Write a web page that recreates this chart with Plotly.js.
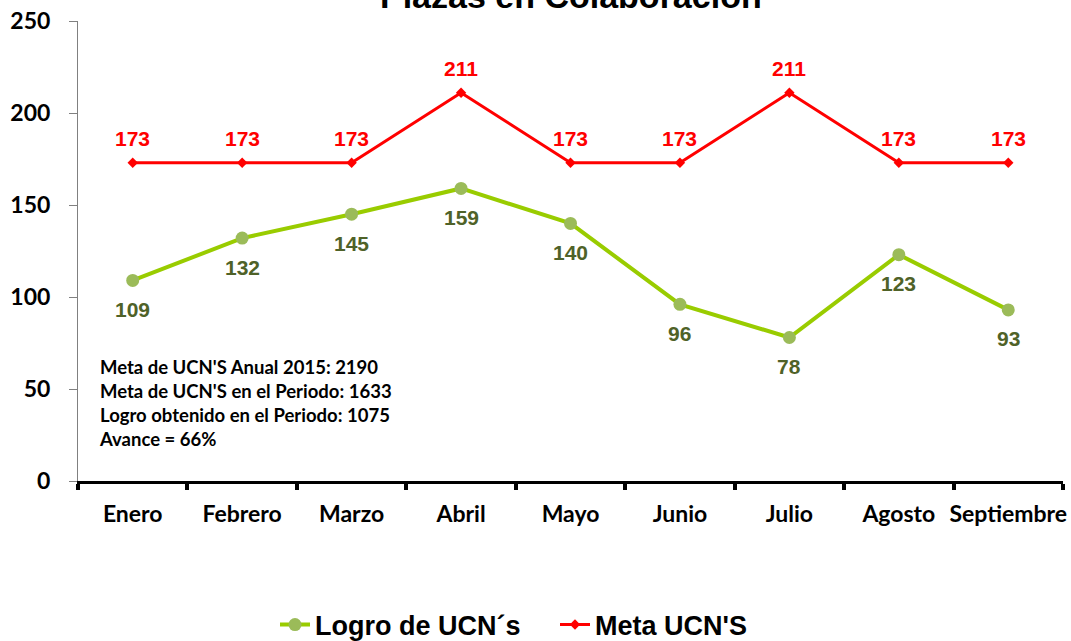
<!DOCTYPE html>
<html><head><meta charset="utf-8">
<script src="https://cdn.plot.ly/plotly-3.0.1.min.js"></script>
<style>body{margin:0;background:#fff}#chart{width:1071px;height:641px}</style>
</head><body><div id="chart"></div>
<script>
const months = ["Enero","Febrero","Marzo","Abril","Mayo","Junio","Julio","Agosto","Septiembre"];
const logro = [109,132,145,159,140,96,78,123,93];
const meta = [173,173,173,211,173,173,211,173,173];
const titleText = "Plazas en Colaboración";
const noteLines = ["Meta de UCN'S Anual 2015: 2190","Meta de UCN'S en el Periodo: 1633","Logro obtenido en el Periodo: 1075","Avance = 66%"];

const labelFont = {family: "Arial, Liberation Sans", size: 21, weight: 700};
const traces = [
  {x: months, y: logro, name: "Logro de UCN´s", mode: "lines+markers",
   line: {color: "#99CC00", width: 4}, marker: {color: "#9BBB59", size: 13, symbol: "circle"}},
  {x: months, y: meta, name: "Meta UCN'S", mode: "lines+markers",
   line: {color: "#FF0000", width: 3}, marker: {color: "#FF0000", size: 8, symbol: "diamond"}}
];

const anns = [
  {xref: "paper", yref: "paper", x: 0.5, y: 1, yshift: 25, xanchor: "center", yanchor: "middle",
   text: titleText, showarrow: false,
   font: {family: "Arial, Liberation Sans", size: 34, color: "#000", weight: 700}},
  {xref: "paper", yref: "paper", x: 0.019, y: 0.063, xanchor: "left", yanchor: "bottom", align: "left",
   text: noteLines.join("<br>"), showarrow: false,
   font: {family: "Lato, Liberation Sans", size: 18.5, color: "#000", weight: 700}}
];
months.forEach((m, i) => {
  anns.push({x: m, y: logro[i], xref: "x", yref: "y", text: String(logro[i]), showarrow: false,
    yshift: -29, font: Object.assign({}, labelFont, {color: "#4F6228"})});
  anns.push({x: m, y: meta[i], xref: "x", yref: "y", text: String(meta[i]), showarrow: false,
    yshift: 24, font: Object.assign({}, labelFont, {color: "#FF0000"})});
});

const layout = {
  width: 1071, height: 641,
  margin: {l: 78, r: 8, t: 21, b: 160, autoexpand: false},
  paper_bgcolor: "#fff", plot_bgcolor: "#fff",
  showlegend: true,
  legend: {orientation: "h", x: 0.2, xanchor: "left", y: -0.313, yanchor: "middle",
    font: {family: "Arial, Liberation Sans", size: 27, color: "#000", weight: 700},
    entrywidth: 235, traceorder: "normal"},
  xaxis: {type: "category", range: [-0.5, 8.5], showline: true, linecolor: "#000", linewidth: 3,
    ticks: "outside", tickson: "boundaries", ticklen: 6, tickwidth: 4, tickcolor: "#000",
    showgrid: false, zeroline: false, tickangle: 0, automargin: false, ticklabelstandoff: 10,
    tickfont: {family: "Lato, Liberation Sans", size: 23, color: "#000", weight: 700}},
  yaxis: {range: [0, 250], dtick: 50, showline: true, linecolor: "#808080", linewidth: 1,
    ticks: "outside", ticklen: 8, tickcolor: "#808080", showgrid: false, zeroline: false,
    automargin: false, ticklabelstandoff: 14,
    tickfont: {family: "Lato, Liberation Sans", size: 23, color: "#000", weight: 700}},
  annotations: anns
};
Plotly.newPlot("chart", traces, layout, {displayModeBar: false, staticPlot: true});
</script></body></html>
